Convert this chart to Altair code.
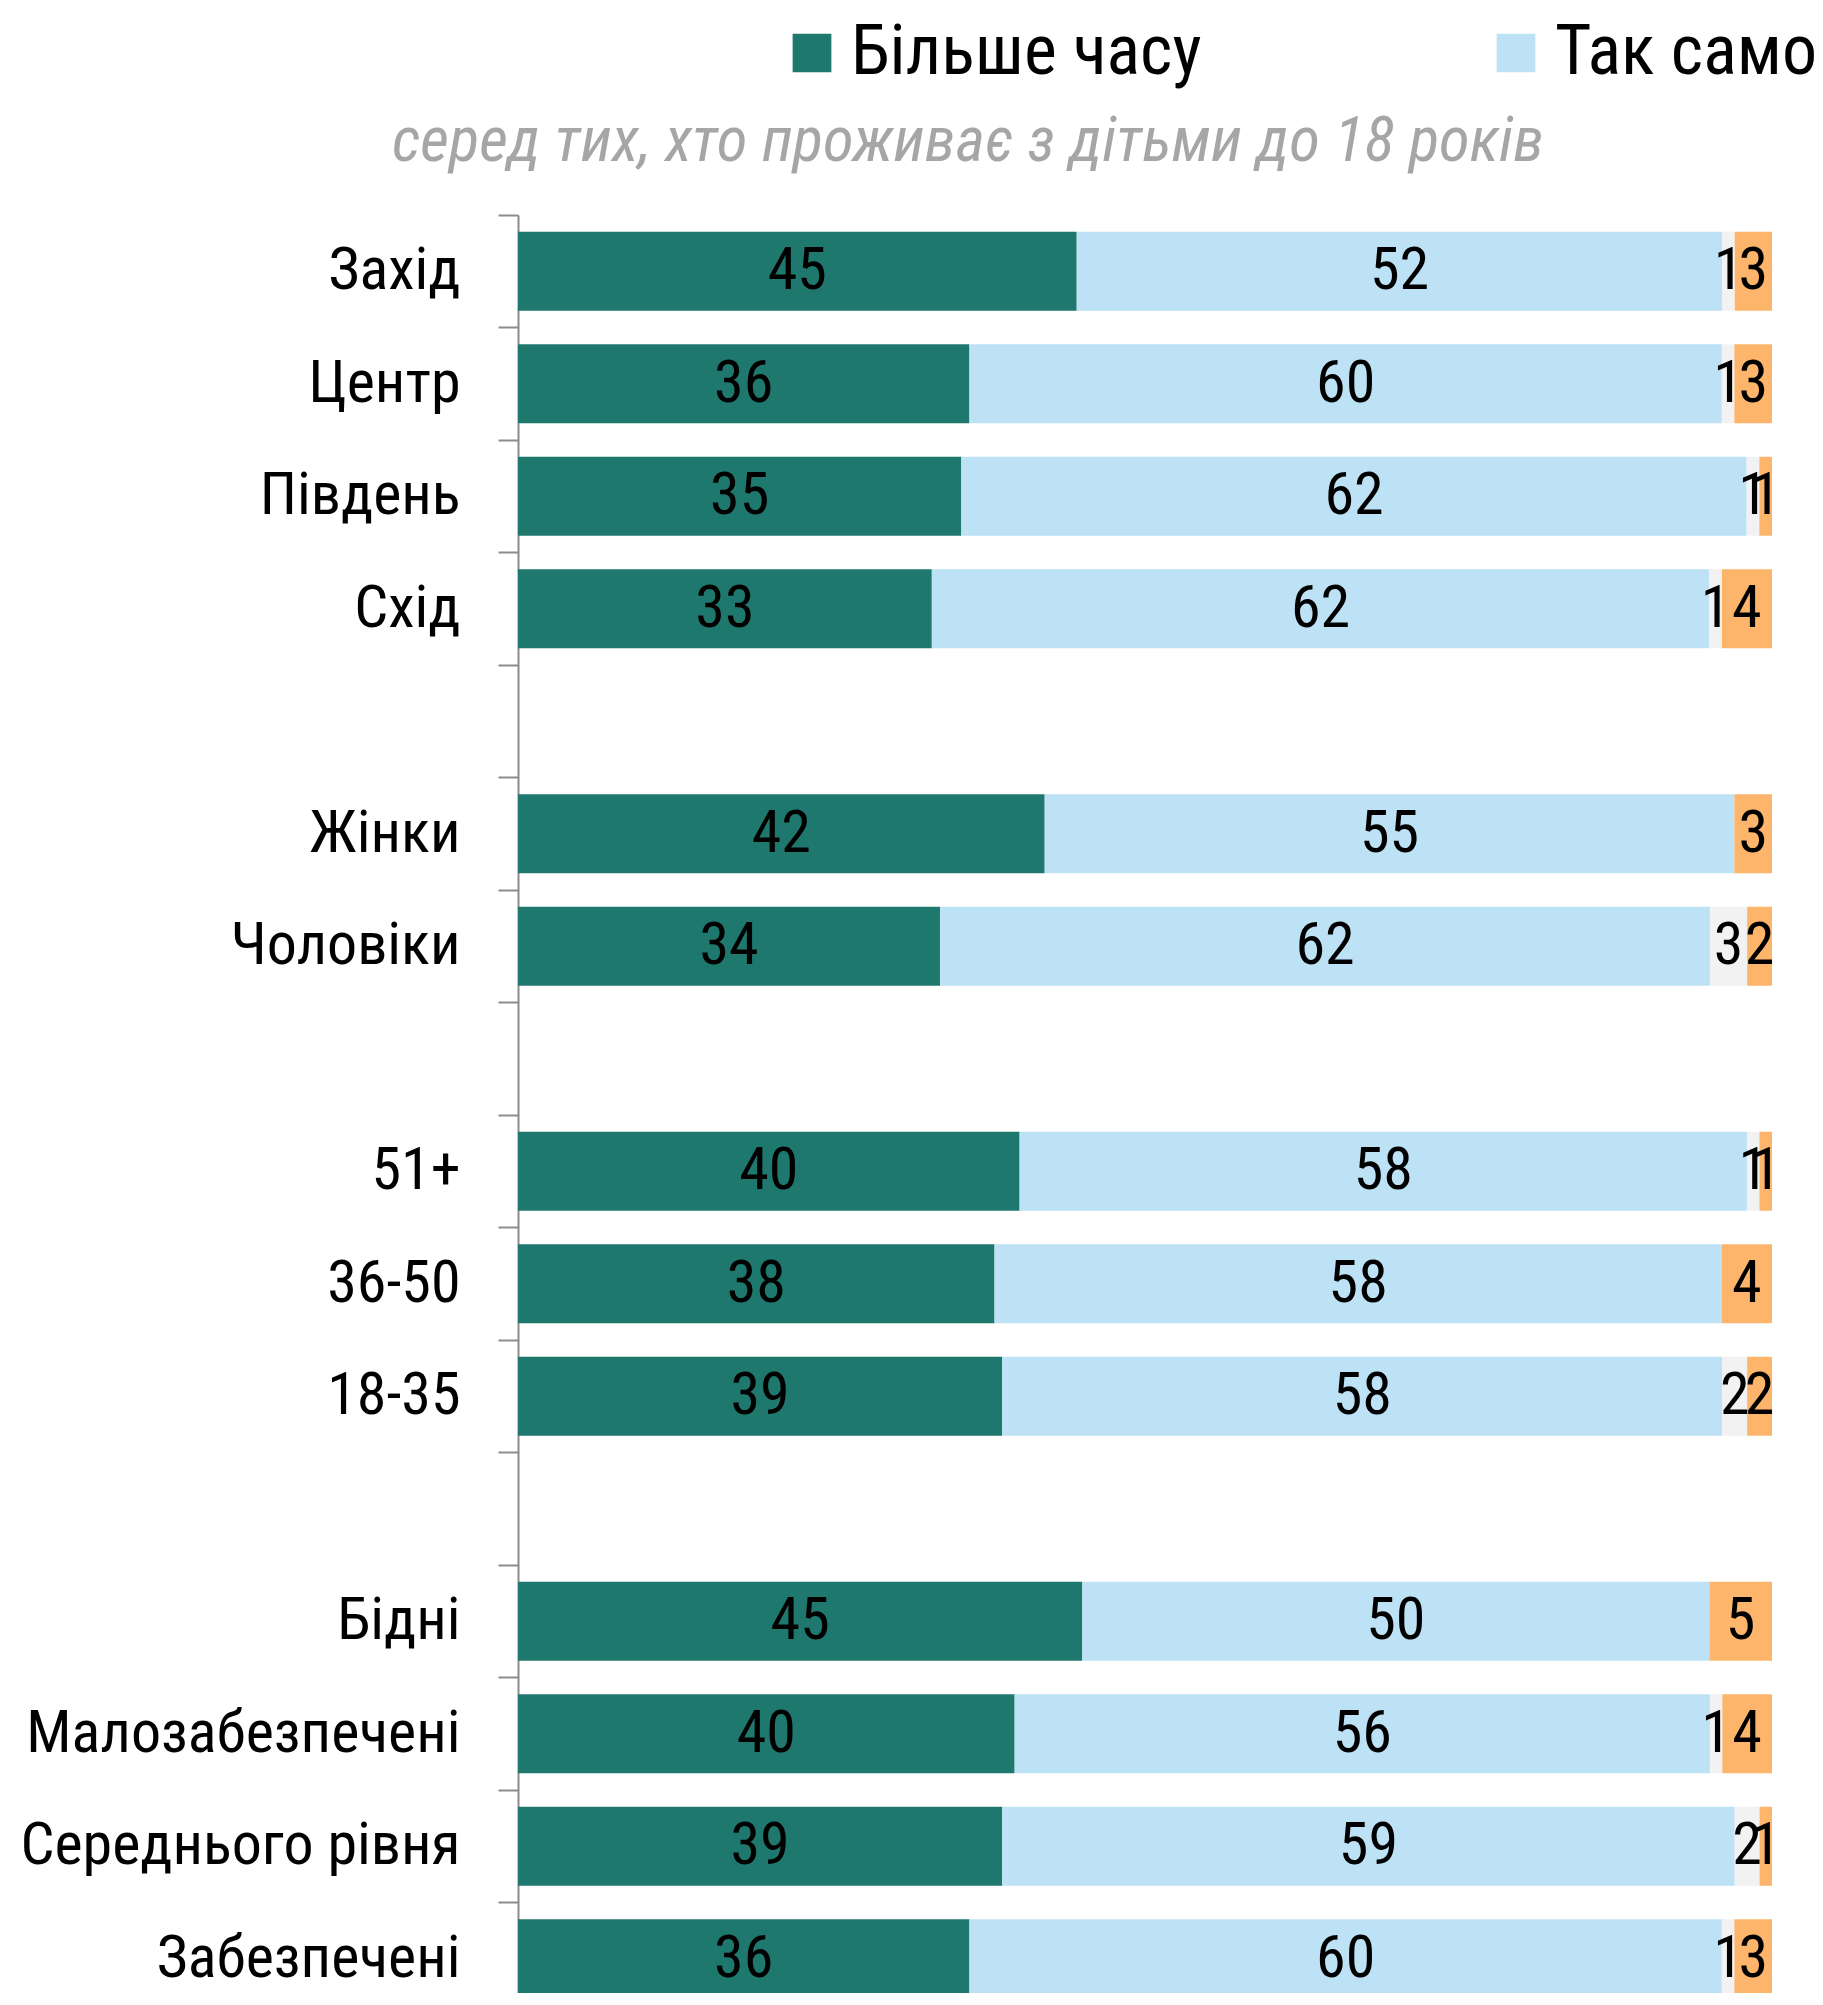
import altair as alt
import pandas as pd

categories = ["Захід", "Центр", "Південь", "Схід", " ",
              "Жінки", "Чоловіки", "  ",
              "51+", "36-50", "18-35", "   ",
              "Бідні", "Малозабезпечені", "Середнього рівня", "Забезпечені"]
series = ["Більше часу", "Так само", "Менше часу", "Важко відповісти"]
more_time = [45, 36, 35, 33, None, 42, 34, None, 40, 38, 39, None, 45, 40, 39, 36]
same_time = [52, 60, 62, 62, None, 55, 62, None, 58, 58, 58, None, 50, 56, 59, 60]
less_time = [1, 1, 1, 1, None, 0, 3, None, 1, 0, 2, None, 0, 1, 2, 1]
hard_say = [3, 3, 1, 4, None, 3, 2, None, 1, 4, 2, None, 5, 4, 1, 3]
colors = ["#1E786D", "#BDE2F5", "#F2F2F2", "#FDB46B"]
subtitle = ["серед тих, хто проживає з дітьми до 18 років"]

FONT = "Liberation Sans Narrow, Roboto Condensed, Noto Sans Condensed, Liberation Sans"

rows = []
for i, cat in enumerate(categories):
    vals = [more_time[i], same_time[i], less_time[i], hard_say[i]]
    if vals[0] is None:
        continue
    for k, (s, v) in enumerate(zip(series, vals)):
        rows.append({"category": cat, "series": s, "order": k, "value": v})
df = pd.DataFrame(rows)

base = alt.Chart(df).transform_stack(
    stack="value", groupby=["category"], as_=["x0", "x1"],
    offset="normalize", sort=[alt.SortField("order", order="ascending")]
).transform_calculate(mid="(datum.x0 + datum.x1) / 2")

y_enc = alt.Y(
    "category:N",
    scale=alt.Scale(domain=categories, range=[0, 1800], paddingInner=0, paddingOuter=0),
    axis=alt.Axis(
        title=None, bandPosition=0, tickSize=20,
        tickColor="#8C8C8C", tickWidth=2, domainColor="#8C8C8C", domainWidth=2,
        labelFont=FONT, labelFontSize=60, labelColor="black", labelPadding=38,
        labelLimit=1000, grid=False,
    ),
)

bars = base.mark_bar(size=79).encode(
    y=y_enc,
    x=alt.X("x0:Q", scale=alt.Scale(domain=[0, 1], nice=False, zero=False), axis=None),
    x2="x1:Q",
    color=alt.Color(
        "series:N",
        scale=alt.Scale(domain=series, range=colors),
        legend=alt.Legend(
            orient="none", legendX=259, legendY=-197, direction="horizontal",
            title=None, values=series[:2], symbolType="square", symbolSize=1500,
            symbolStrokeWidth=0, labelFont=FONT, labelFontSize=70,
            labelColor="black", labelLimit=1000, labelOffset=4,
            columnPadding=279, padding=0,
        ),
    ),
    order=alt.Order("order:Q"),
)

labels = base.transform_filter("datum.value > 0").mark_text(
    font=FONT, fontSize=60, color="black", baseline="middle", align="center"
).encode(
    y=alt.Y("category:N"),
    x=alt.X("mid:Q"),
    text=alt.Text("value:Q"),
)

sub = alt.Chart(pd.DataFrame({"t": subtitle})).mark_text(
    font=FONT, fontSize=63, fontStyle="italic", color="#A6A6A6",
    align="center", baseline="alphabetic",
).encode(
    x=alt.value(450),
    y=alt.value(-54),
    text="t:N",
)

chart = alt.layer(bars, labels, sub).properties(
    width=1254,
    height=1778,
    padding={"left": 510, "top": 207, "right": 43, "bottom": 0},
    autosize=alt.AutoSizeParams(type="none"),
).configure_view(stroke=None)

chart.save("out.html", embed_options={"renderer": "svg", "actions": False})
